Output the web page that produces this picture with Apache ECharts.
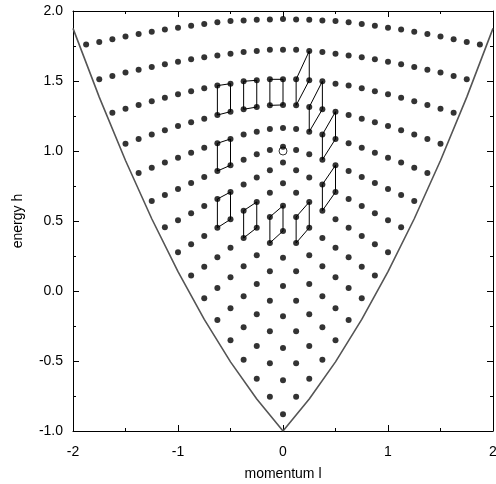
<!DOCTYPE html>
<html>
<head>
<meta charset="utf-8">
<script src="https://cdn.jsdelivr.net/npm/echarts@6/dist/echarts.min.js"></script>
<style>
  html, body { margin: 0; padding: 0; background: #fff; }
  #main { width: 496px; height: 484px; }
</style>
</head>
<body>
<div id="main"></div>
<script>
// momentum of column k (k = 0..15), right half; the picture is mirror symmetric
const momenta = [0, 0.125, 0.25, 0.375, 0.5, 0.625, 0.75, 0.875, 1, 1.125, 1.25, 1.375, 1.5, 1.625, 1.75, 1.875]

// energy of level r at columns k = 0..r
const levels = [
  [-0.881],
  [-0.638, -0.755],
  [-0.407, -0.516, -0.626],
  [-0.181, -0.288, -0.393, -0.491],
  [0.036, -0.069, -0.166, -0.259, -0.352],
  [0.238, 0.141, 0.050, -0.038, -0.124, -0.207],
  [0.429, 0.343, 0.255, 0.176, 0.098, 0.021, -0.052],
  [0.609, 0.529, 0.452, 0.379, 0.309, 0.241, 0.174, 0.111],
  [0.769, 0.702, 0.636, 0.574, 0.512, 0.452, 0.393, 0.334, 0.276],
  [0.917, 0.862, 0.810, 0.761, 0.707, 0.657, 0.607, 0.555, 0.505, 0.455],
  [1.031, 1.007, 0.976, 0.938, 0.898, 0.857, 0.814, 0.772, 0.729, 0.686, 0.643],
  [1.164, 1.157, 1.138, 1.117, 1.086, 1.055, 1.024, 0.988, 0.952, 0.917, 0.881, 0.843],
  [1.329, 1.326, 1.314, 1.298, 1.281, 1.257, 1.231, 1.205, 1.179, 1.148, 1.117, 1.086, 1.052],
  [1.512, 1.512, 1.505, 1.498, 1.481, 1.467, 1.448, 1.426, 1.405, 1.381, 1.355, 1.329, 1.302, 1.274],
  [1.724, 1.724, 1.714, 1.707, 1.695, 1.683, 1.669, 1.655, 1.638, 1.619, 1.600, 1.581, 1.560, 1.536, 1.512],
  [1.943, 1.940, 1.938, 1.933, 1.929, 1.919, 1.907, 1.895, 1.881, 1.867, 1.852, 1.836, 1.817, 1.798, 1.779, 1.760],
]

// boundary curve
const edgeL = [-2, -1.75, -1.5, -1.25, -1, -0.75, -0.5, -0.25, 0, 0.25, 0.5, 0.75, 1, 1.25, 1.5, 1.75, 2]
const edgeH = [1.876, 1.385, 0.932, 0.516, 0.138, -0.203, -0.506, -0.772, -1, -0.772, -0.506, -0.203, 0.138, 0.516, 0.932, 1.385, 1.876]

// parallelograms, corners given as [signed column k, level r]
const cells = [
  [[-5, 13], [-4, 13], [-4, 12], [-5, 12]],
  [[-3, 13], [-2, 13], [-2, 12], [-3, 12]],
  [[-1, 13], [0, 13], [0, 12], [-1, 12]],
  [[1, 13], [2, 14], [2, 13], [1, 12]],
  [[2, 12], [3, 13], [3, 12], [2, 11]],
  [[3, 11], [4, 12], [4, 11], [3, 10]],
  [[3, 9], [4, 10], [4, 9], [3, 8]],
  [[-5, 11], [-4, 11], [-4, 10], [-5, 10]],
  [[-5, 9], [-4, 9], [-4, 8], [-5, 8]],
  [[-3, 8], [-2, 8], [-2, 7], [-3, 7]],
  [[-1, 7], [0, 7], [0, 6], [-1, 6]],
  [[1, 7], [2, 8], [2, 7], [1, 6]],
]

const marked = [[0, 1.0]]

function pt(k, r) {
  const a = Math.abs(k)
  return [k < 0 ? -momenta[a] : momenta[a], levels[r][a]]
}

const dots = []
levels.forEach((row, r) => {
  for (let k = -r; k <= r; k++) dots.push(pt(k, r))
})

const font = 'Liberation Sans, Arial, sans-serif'

function xAx(pos) {
  return {
    type: 'value', min: -2, max: 2, interval: 1, position: pos,
    name: pos === 'bottom' ? 'momentum l' : '',
    nameLocation: 'middle', nameGap: 36,
    nameTextStyle: { fontSize: 14, color: '#000', fontFamily: font },
    axisLine: { show: true, onZero: false, lineStyle: { color: '#000', width: 1 } },
    axisTick: { show: true, inside: true, length: 6, lineStyle: { color: '#000' } },
    minorTick: { show: true, splitNumber: 2, length: 3, lineStyle: { color: '#000' } },
    splitLine: { show: false },
    axisLabel: { show: pos === 'bottom', fontSize: 14, color: '#000', margin: 14, fontFamily: font, hideOverlap: false },
  }
}

function yAx(pos) {
  return {
    type: 'value', min: -1, max: 2, interval: 0.5, position: pos,
    name: pos === 'left' ? 'energy h' : '',
    nameLocation: 'middle', nameGap: 48, nameRotate: 90,
    nameTextStyle: { fontSize: 14, color: '#000', fontFamily: font },
    axisLine: { show: true, onZero: false, lineStyle: { color: '#000', width: 1 } },
    axisTick: { show: true, inside: true, length: 6, lineStyle: { color: '#000' } },
    minorTick: { show: true, splitNumber: 2, length: 3, lineStyle: { color: '#000' } },
    splitLine: { show: false },
    axisLabel: {
      show: pos === 'left', fontSize: 14, color: '#000', margin: 10, fontFamily: font,
      formatter: (v) => v.toFixed(1),
    },
  }
}

const series = [
  {
    type: 'line',
    data: edgeL.map((l, i) => [l, edgeH[i]]),
    showSymbol: false,
    lineStyle: { color: '#555', width: 1.6 },
    silent: true,
    z: 1,
  },
]

cells.forEach((c) => {
  const p = c.map(([k, r]) => pt(k, r))
  p.push(p[0])
  series.push({
    type: 'line',
    data: p,
    showSymbol: false,
    lineStyle: { color: '#000', width: 1 },
    silent: true,
    z: 2,
  })
})

series.push({
  type: 'scatter',
  data: dots,
  symbolSize: 6,
  itemStyle: { color: '#000' },
  z: 3,
})

series.push({
  type: 'scatter',
  data: marked,
  symbol: 'circle',
  symbolSize: 8,
  itemStyle: { color: 'rgba(0,0,0,0)', borderColor: '#000', borderWidth: 1 },
  z: 4,
})

const myChart = echarts.init(document.getElementById('main'))
myChart.setOption({
  animation: false,
  backgroundColor: '#fff',
  grid: { left: 73, right: 3, top: 11, bottom: 53, containLabel: false, outerBoundsMode: 'none' },
  xAxis: [xAx('bottom'), xAx('top')],
  yAxis: [yAx('left'), yAx('right')],
  series: series,
})
</script>
</body>
</html>
